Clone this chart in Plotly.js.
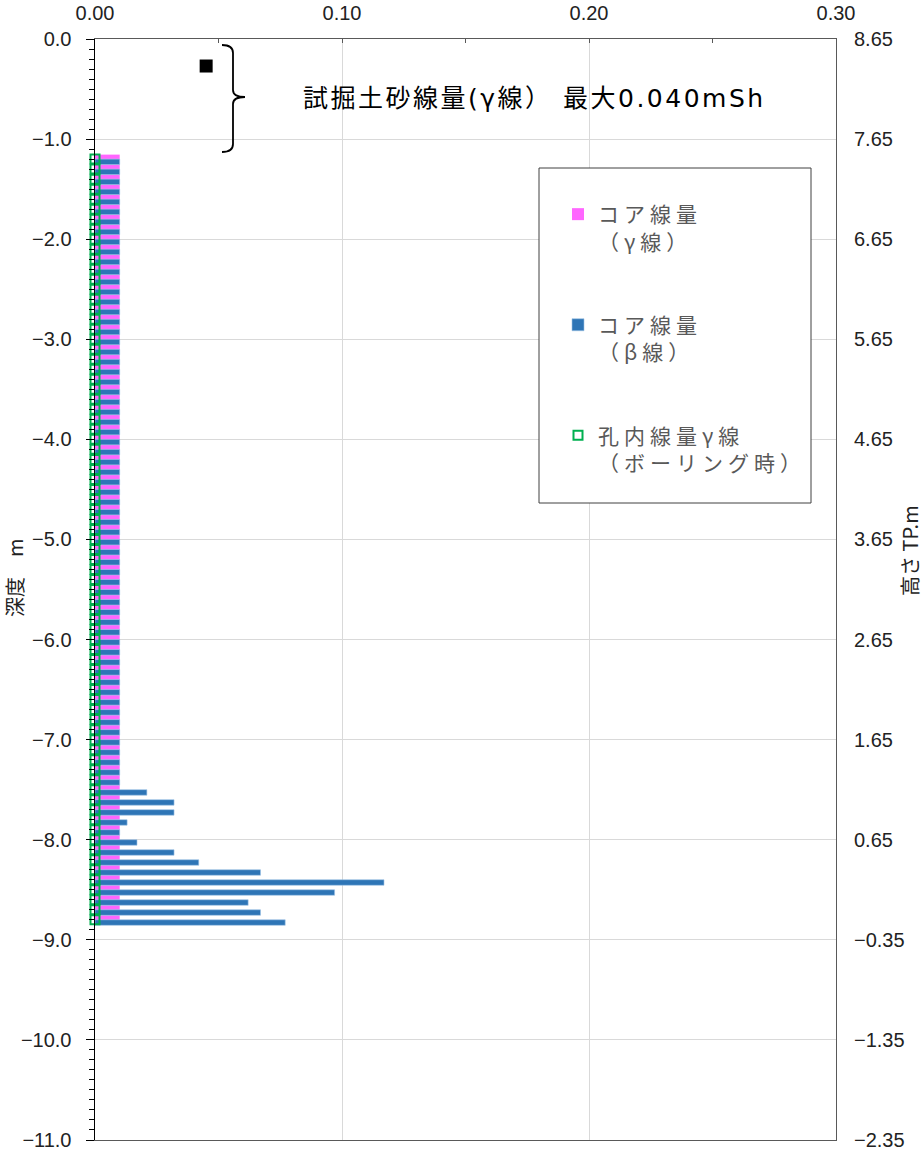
<!DOCTYPE html>
<html><head><meta charset="utf-8">
<script src="https://cdn.plot.ly/plotly-3.0.1.min.js"></script>
<style>
html,body{margin:0;padding:0;background:#fff;}
#chart{width:924px;height:1152px;}
.legendtext{letter-spacing:5px;}
</style></head><body><div id="chart"></div>
<script>
// depth of each core sample (m)
const depth = [
 -1.2,-1.3,-1.4,-1.5,-1.6,-1.7,-1.8,-1.9,-2.0,-2.1,
 -2.2,-2.3,-2.4,-2.5,-2.6,-2.7,-2.8,-2.9,-3.0,-3.1,
 -3.2,-3.3,-3.4,-3.5,-3.6,-3.7,-3.8,-3.9,-4.0,-4.1,
 -4.2,-4.3,-4.4,-4.5,-4.6,-4.7,-4.8,-4.9,-5.0,-5.1,
 -5.2,-5.3,-5.4,-5.5,-5.6,-5.7,-5.8,-5.9,-6.0,-6.1,
 -6.2,-6.3,-6.4,-6.5,-6.6,-6.7,-6.8,-6.9,-7.0,-7.1,
 -7.2,-7.3,-7.4,-7.5,-7.6,-7.7,-7.8,-7.9,-8.0,-8.1,
 -8.2,-8.3,-8.4,-8.5,-8.6,-8.7,-8.8
];
// コア線量（γ線）
const coreGamma = [
 0.010,0.010,0.010,0.010,0.010,0.010,0.010,0.010,0.010,0.010,
 0.010,0.010,0.010,0.010,0.010,0.010,0.010,0.010,0.010,0.010,
 0.010,0.010,0.010,0.010,0.010,0.010,0.010,0.010,0.010,0.010,
 0.010,0.010,0.010,0.010,0.010,0.010,0.010,0.010,0.010,0.010,
 0.010,0.010,0.010,0.010,0.010,0.010,0.010,0.010,0.010,0.010,
 0.010,0.010,0.010,0.010,0.010,0.010,0.010,0.010,0.010,0.010,
 0.010,0.010,0.010,0.010,0.010,0.010,0.010,0.010,0.010,0.010,
 0.010,0.010,0.010,0.010,0.010,0.010,0.010
];
// コア線量（β線）
const coreBeta = [
 0.010,0.010,0.010,0.010,0.010,0.010,0.010,0.010,0.010,0.010,
 0.010,0.010,0.010,0.010,0.010,0.010,0.010,0.010,0.010,0.010,
 0.010,0.010,0.010,0.010,0.010,0.010,0.010,0.010,0.010,0.010,
 0.010,0.010,0.010,0.010,0.010,0.010,0.010,0.010,0.010,0.010,
 0.010,0.010,0.010,0.010,0.010,0.010,0.010,0.010,0.010,0.010,
 0.010,0.010,0.010,0.010,0.010,0.010,0.010,0.010,0.010,0.010,
 0.010,0.010,0.010,0.021,0.032,0.032,0.013,0.010,0.017,0.032,
 0.042,0.067,0.117,0.097,0.062,0.067,0.077
];
// 孔内線量γ線（ボーリング時）
const boreGamma = [
 0.000,0.000,0.000,0.000,0.000,0.000,0.000,0.000,0.000,0.000,
 0.000,0.000,0.000,0.000,0.000,0.000,0.000,0.000,0.000,0.000,
 0.000,0.000,0.000,0.000,0.000,0.000,0.000,0.000,0.000,0.000,
 0.000,0.000,0.000,0.000,0.000,0.000,0.000,0.000,0.000,0.000,
 0.000,0.000,0.000,0.000,0.000,0.000,0.000,0.000,0.000,0.000,
 0.000,0.000,0.000,0.000,0.000,0.000,0.000,0.000,0.000,0.000,
 0.000,0.000,0.000,0.000,0.000,0.000,0.000,0.000,0.000,0.000,
 0.000,0.000,0.000,0.000,0.000,0.000,0.000
];
// 試掘土砂線量（γ線）
const soilX = [0.045];
const soilDepth = [-0.27];
const soilLabel = '試掘土砂線量(γ線） 最大0.040mSh';

const names = ['コア線量<br>（γ線）', 'コア線量<br>（β線）', '孔内線量γ線<br>（ボーリング時）'];

// pixel -> paper helpers (plot area 95..836 x 39..1140)
const L = 95, R = 836, T = 39, B = 1140;
const px = x => (x - L) / (R - L);
const py = y => (B - y) / (B - T);

const traces = [
  {type:'bar', orientation:'h', x: coreGamma, y: depth, name: names[0],
   marker:{color:'#ff66ff', line:{width:0}}, offset:0, width:0.045,
   legendgroup:'a'},
  {type:'bar', orientation:'h', x: coreBeta, y: depth, name: names[1],
   marker:{color:'#2e75b6', line:{width:0.6, color:'#9dc3e6'}}, offset:-0.055, width:0.055,
   legendgroup:'b'},
  {type:'scatter', mode:'markers', x: boreGamma, y: depth, name: names[2],
   marker:{symbol:'square-open', size:9, color:'#00b050', line:{width:2, color:'#00b050'}},
   legendgroup:'c', cliponaxis:false},
  {type:'scatter', mode:'markers', x: soilX, y: soilDepth, name:'試掘土砂線量',
   marker:{symbol:'square', size:13, color:'#000', line:{width:0}}, showlegend:false},
  // carrier so the elevation axis (高さ TP.m) is drawn; holds no points
  {type:'scatter', mode:'markers', x: [], y: [], yaxis:'y2', showlegend:false, hoverinfo:'skip'}
];

const brace = [
  'M', px(222), py(45), 'Q', px(233), py(45), px(233), py(53),
  'L', px(233), py(90), 'Q', px(233), py(97), px(245), py(97),
  'Q', px(233), py(97), px(233), py(104),
  'L', px(233), py(144), 'Q', px(233), py(152), px(222), py(152)
];
let bracePath = '';
for (let i = 0; i < brace.length; i++) {
  const v = brace[i];
  bracePath += (typeof v === 'string') ? v + ' ' : (v.toFixed(5) + ((typeof brace[i+1] === 'number') ? ',' : ' '));
}

const tickFont = {family:'Arial, "Liberation Sans", sans-serif', size:20, color:'#222'};
const jpFont = '"Noto Sans CJK JP", "Noto Sans", sans-serif';

const layout = {
  width:924, height:1152,
  margin:{l:L, r:924-R, t:T, b:1152-B, pad:0},
  paper_bgcolor:'#fff', plot_bgcolor:'#fff',
  barmode:'overlay',
  showlegend:true,
  legend:{x:px(558), y:py(194), xanchor:'left', yanchor:'top',
    bgcolor:'rgba(0,0,0,0)', borderwidth:0, traceorder:'grouped', tracegroupgap:53,
    valign:'top', font:{family:jpFont, size:21, color:'#595959'}},
  xaxis:{side:'top', range:[0,0.30], dtick:0.1, tick0:0, tickformat:'.2f',
    showgrid:true, gridcolor:'#d9d9d9', gridwidth:1, zeroline:false,
    showline:true, linecolor:'#595959', linewidth:1, mirror:true,
    ticks:'inside', ticklen:4, tickcolor:'#595959',
    minor:{dtick:0.05, ticks:'inside', ticklen:4, tickcolor:'#595959', showgrid:false},
    tickfont:tickFont, ticklabelstandoff:10, fixedrange:true},
  yaxis:{range:[-11,0], dtick:1, tick0:0, tickformat:'.1f',
    showgrid:true, gridcolor:'#d9d9d9', gridwidth:1, zeroline:false,
    showline:true, linecolor:'#000', linewidth:1.5,
    ticks:'outside', ticklen:8, tickcolor:'#000', tickwidth:1,
    minor:{dtick:0.1, ticks:'outside', ticklen:5, tickcolor:'#000', showgrid:false},
    tickfont:tickFont, ticklabelstandoff:10, fixedrange:true},
  yaxis2:{overlaying:'y', side:'right', range:[-2.35,8.65], tickmode:'linear', tick0:-2.35, dtick:1,
    tickformat:'.2f', showgrid:false, zeroline:false, showline:true, linecolor:'#595959', linewidth:1,
    ticks:'', tickfont:tickFont, ticklabelstandoff:13, fixedrange:true},
  shapes:[
    {type:'rect', xref:'paper', yref:'paper', x0:px(539), x1:px(811), y0:py(503), y1:py(168),
     fillcolor:'#fff', line:{color:'#404040', width:1}, layer:'above'},
    {type:'path', xref:'paper', yref:'paper', path:bracePath, line:{color:'#000', width:1.8}, layer:'above'}
  ],
  annotations:[
    {xref:'paper', yref:'paper', x:px(301), y:py(98), xanchor:'left', yanchor:'middle',
     text:soilLabel, showarrow:false, font:{family:'"DejaVu Sans", "Noto Sans CJK JP", sans-serif', size:25, color:'#000'}},
    {xref:'paper', yref:'paper', x:px(14), y:py(578), xanchor:'center', yanchor:'middle',
     text:'深度　m', textangle:-90, showarrow:false, font:{family:jpFont, size:20, color:'#222'}},
    {xref:'paper', yref:'paper', x:px(909), y:py(551), xanchor:'center', yanchor:'middle',
     text:'高さ TP.m', textangle:-90, showarrow:false, font:{family:jpFont, size:20, color:'#222'}}
  ]
};

Plotly.newPlot('chart', traces, layout, {staticPlot:true, displayModeBar:false}).then(function(gd){
  // widen the callout text a little, like the original's spaced lettering,
  // then keep its left edge where the original starts it
  const t = gd.querySelectorAll('.annotation-text');
  if (t.length) {
    const el = t[0];
    el.style.letterSpacing = '2.5px';
    const left = el.getBoundingClientRect().left - gd.getBoundingClientRect().left;
    const x0 = parseFloat(el.getAttribute('x') || '0');
    el.setAttribute('x', x0 + (303 - left));
  }
});
</script></body></html>
